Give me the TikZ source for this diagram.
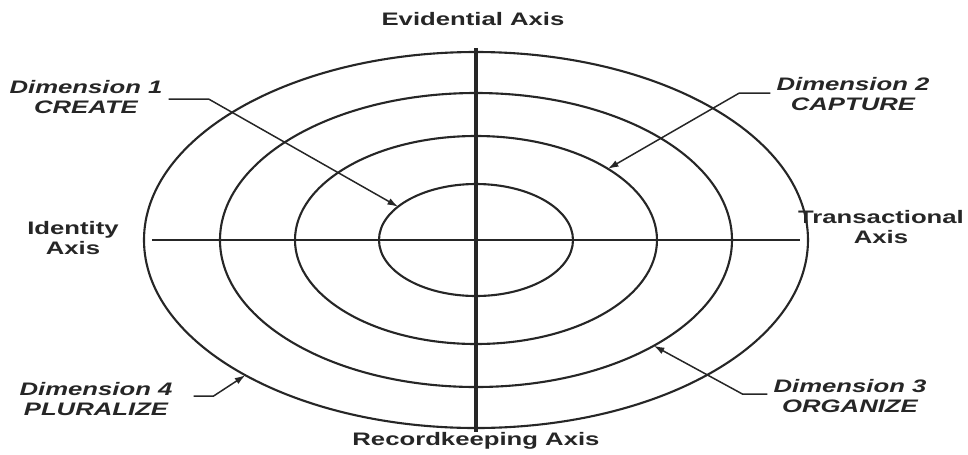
\documentclass[tikz,border=0pt]{standalone}
\usepackage{fontspec}
\setmainfont{Liberation Sans}[FakeStretch=1.42]
\usepackage{xcolor}
\usetikzlibrary{arrows.meta}
\usetikzlibrary{math}
\definecolor{inkgray}{RGB}{38, 38, 38}

\tikzset{
  axislabel/.style={font=\bfseries\fontsize{10.3}{11.3}\selectfont, align=center, text=inkgray},
  dimlabel/.style={font=\bfseries\itshape\fontsize{10.3}{11}\selectfont, align=center, text=inkgray},
  ring/.style={draw=inkgray, line width=1.2pt},
  pointer/.style={draw=inkgray, line width=0.85pt, -{Latex[length=6pt,width=4pt]}}
}

\begin{document}
\begin{tikzpicture}
  \tikzmath{
    \Rx=6.64; \Ry=3.76;
  }
  \useasboundingbox (-9.52,-4.28) rectangle (9.84,4.8);

  % the four dimensions
  \foreach \rx/\ry in {\Rx/\Ry, 5.12/2.94, 3.62/2.08, 1.94/1.12}{
    \draw[ring] (0,0) ellipse ({\rx} and {\ry});
  }

  % the four axes
  \draw[draw=inkgray, line width=1.5pt] (-6.48,0) -- (6.48,0);
  \draw[draw=inkgray, line width=2.1pt] (0,3.84) -- (0,-3.84);

  \node[axislabel] (evid) at (-0.06,4.42) {Evidential Axis};
  \node[axislabel] (rec) at (0,-4.02) {Recordkeeping Axis};
  \node[axislabel] (ident) at (-8.06,0.04) {Identity\\Axis};
  \node[axislabel] (trans) at (8.1,0.26) {Transactional\\Axis};

  \node[dimlabel] (create) at (-7.8,2.86) {Dimension 1\\CREATE};
  \node[dimlabel] (capture) at (7.54,2.92) {Dimension 2\\CAPTURE};
  \node[dimlabel] (organize) at (7.48,-3.12) {Dimension 3\\ORGANIZE};
  \node[dimlabel] (pluralize) at (-7.6,-3.18) {Dimension 4\\PLURALIZE};

  \coordinate (tcreate) at (143.5:1.94 and 1.12);
  \coordinate (tcapture) at (43.2:3.62 and 2.08);
  \coordinate (torganize) at (-46:5.12 and 2.94);
  \coordinate (tpluralize) at (-134:{\Rx} and {\Ry});

  \draw[pointer] ([yshift=-0.04cm]create.east) -- ++(0.8,0) -- (tcreate);
  \draw[pointer] ([yshift=0.02cm]capture.west) -- ++(-0.62,0) -- (tcapture);
  \draw[pointer] ([yshift=0.04cm]organize.west) -- ++(-0.5,0) -- (torganize);
  \draw[pointer] ([xshift=0.3cm,yshift=0.06cm]pluralize.east) -- ++(0.4,0) -- (tpluralize);
\end{tikzpicture}
\end{document}
